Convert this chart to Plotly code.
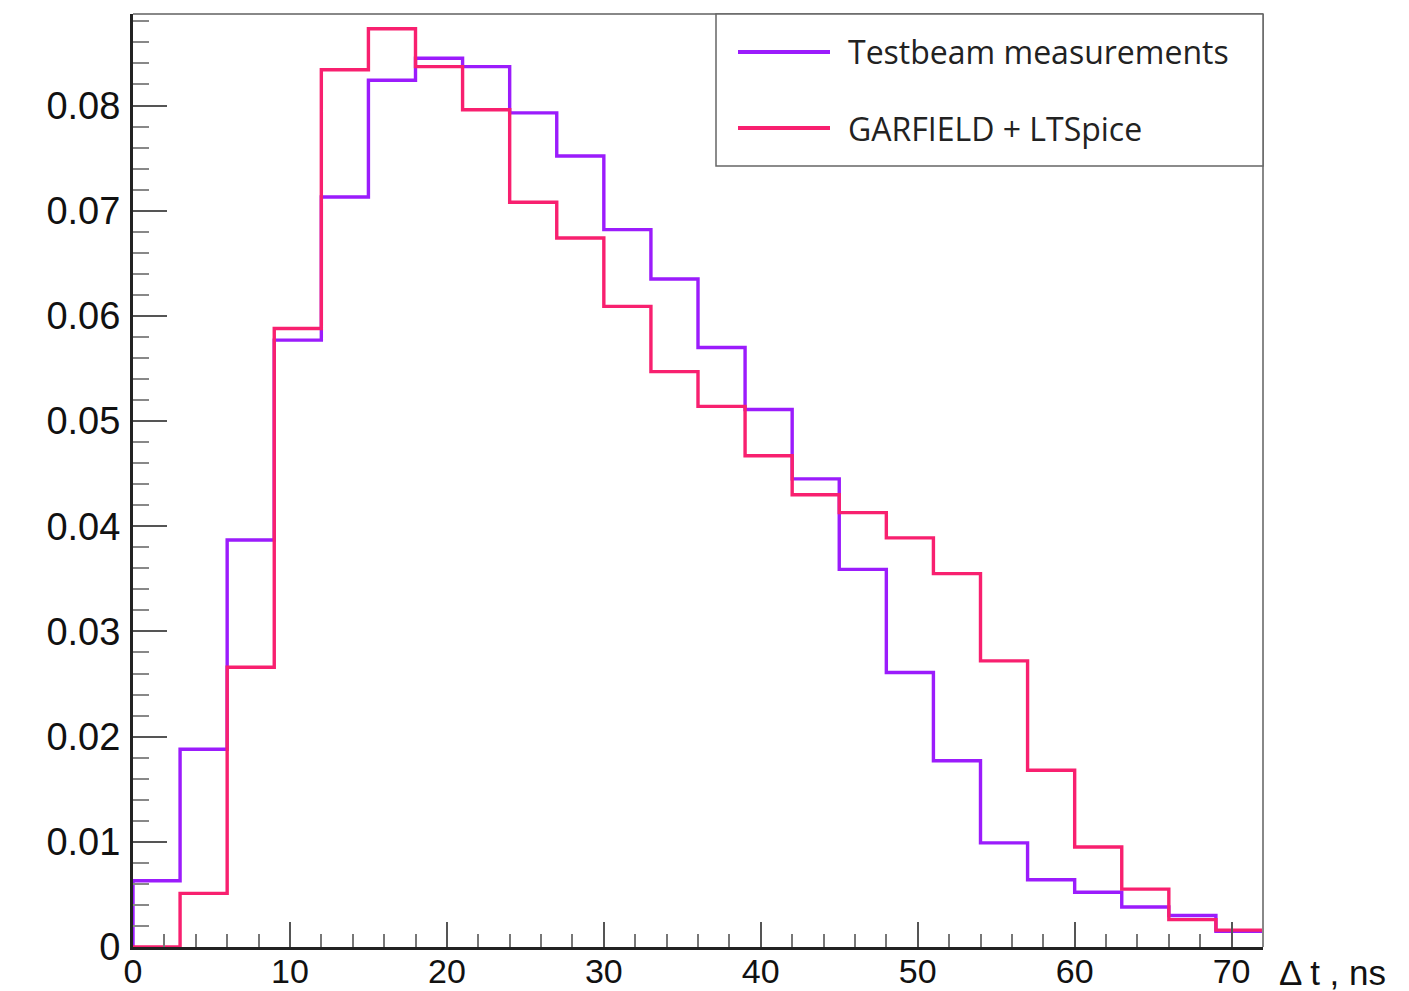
import plotly.graph_objects as go

# 3 ns bins from 0 to 72 ns
bin_edges = [0, 3, 6, 9, 12, 15, 18, 21, 24, 27, 30, 33, 36, 39, 42, 45, 48, 51, 54, 57, 60, 63, 66, 69, 72]

testbeam = [0.0063, 0.0188, 0.0387, 0.0577, 0.0713, 0.0824, 0.0845, 0.0837,
            0.0793, 0.0752, 0.0682, 0.0635, 0.0570, 0.0511, 0.0445, 0.0359,
            0.0261, 0.0177, 0.0099, 0.0064, 0.0052, 0.0038, 0.0030, 0.0015]

garfield = [0.0, 0.0051, 0.0266, 0.0588, 0.0834, 0.0873, 0.0837, 0.0796,
            0.0708, 0.0674, 0.0609, 0.0547, 0.0514, 0.0467, 0.0430, 0.0413,
            0.0389, 0.0355, 0.0272, 0.0168, 0.0095, 0.0055, 0.0026, 0.0016]

series_names = ["Testbeam measurements", "GARFIELD + LTSpice"]
series_colors = ["#9B1CFC", "#F8206F"]

x_ticks = [0, 10, 20, 30, 40, 50, 60, 70]
y_ticks = [0, 0.01, 0.02, 0.03, 0.04, 0.05, 0.06, 0.07, 0.08]
y_tick_labels = ["0", "0.01", "0.02", "0.03", "0.04", "0.05", "0.06", "0.07", "0.08"]

fig = go.Figure()
for name, vals, col in zip(series_names, [testbeam, garfield], series_colors):
    xs = [bin_edges[0]] + bin_edges
    ys = [0] + vals + [vals[-1]]
    fig.add_trace(go.Scatter(x=xs, y=ys, mode="lines", line=dict(shape="hv", color=col, width=3.4),
                             name=name, showlegend=False, hoverinfo="skip"))

W, H = 1409, 991
ml, mr, mt, mb = 133, 146, 14, 44
fig.update_layout(
    width=W, height=H,
    margin=dict(l=ml, r=mr, t=mt, b=mb, pad=0, autoexpand=False),
    paper_bgcolor="white", plot_bgcolor="white",
    showlegend=False,
    font=dict(family="Liberation Sans, Arial", color="black"),
)
fig.update_xaxes(
    range=[0, 72], tickvals=x_ticks, ticktext=[str(v) for v in x_ticks],
    ticks="inside", ticklen=25, tickwidth=2, tickcolor="#555555",
    minor=dict(dtick=2, ticks="inside", ticklen=13, tickwidth=2, tickcolor="#777777"),
    showline=True, linecolor="#222222", linewidth=3,
    showgrid=False, zeroline=False, automargin=False,
    tickfont=dict(size=34, family="Liberation Sans, Arial", color="#111111"),
    ticklabelstandoff=-8,
)
fig.update_yaxes(
    range=[0, 0.0887], tickvals=y_ticks, ticktext=y_tick_labels,
    ticks="inside", ticklen=34, tickwidth=2, tickcolor="#555555",
    minor=dict(dtick=0.002, ticks="inside", ticklen=16, tickwidth=2, tickcolor="#888888"),
    showline=True, linecolor="#222222", linewidth=3,
    showgrid=False, zeroline=False, automargin=False,
    tickfont=dict(size=38, family="Liberation Sans, Arial", color="#111111"),
    ticklabelstandoff=2,
)

# top and right frame lines (grey)
fig.add_shape(type="line", xref="paper", yref="paper", x0=0, x1=1, y0=1, y1=1,
              line=dict(color="#888888", width=2))
fig.add_shape(type="line", xref="paper", yref="paper", x0=1, x1=1, y0=0, y1=1,
              line=dict(color="#888888", width=2))

# legend box
pw = W - ml - mr
ph = H - mt - mb
def px_x(p):
    return (p - ml) / pw
def px_y(p):
    return 1 - (p - mt) / ph

fig.add_shape(type="rect", xref="paper", yref="paper",
              x0=px_x(716), x1=1, y0=px_y(166), y1=1,
              line=dict(color="#666666", width=1.5), fillcolor="white", layer="above")
for i, (name, col) in enumerate(zip(series_names, series_colors)):
    yy = px_y(52 + 76 * i)
    fig.add_shape(type="line", xref="paper", yref="paper",
                  x0=px_x(738), x1=px_x(830), y0=yy, y1=yy,
                  line=dict(color=col, width=4), layer="above")
    fig.add_annotation(x=px_x(846), y=yy, xref="paper", yref="paper", text=name,
                       showarrow=False, xanchor="left", yanchor="middle",
                       font=dict(size=32, family="Open Sans", color="#222222"))

# x axis title
fig.add_annotation(x=px_x(1277), y=px_y(972), xref="paper", yref="paper", text="Δ t , ns",
                   showarrow=False, xanchor="left", yanchor="middle",
                   font=dict(size=35, family="Liberation Sans, Arial", color="#111111"))

fig.write_html("out.html", config={"displayModeBar": False},
               post_script="document.body.style.margin='0';document.body.style.overflow='hidden';")
